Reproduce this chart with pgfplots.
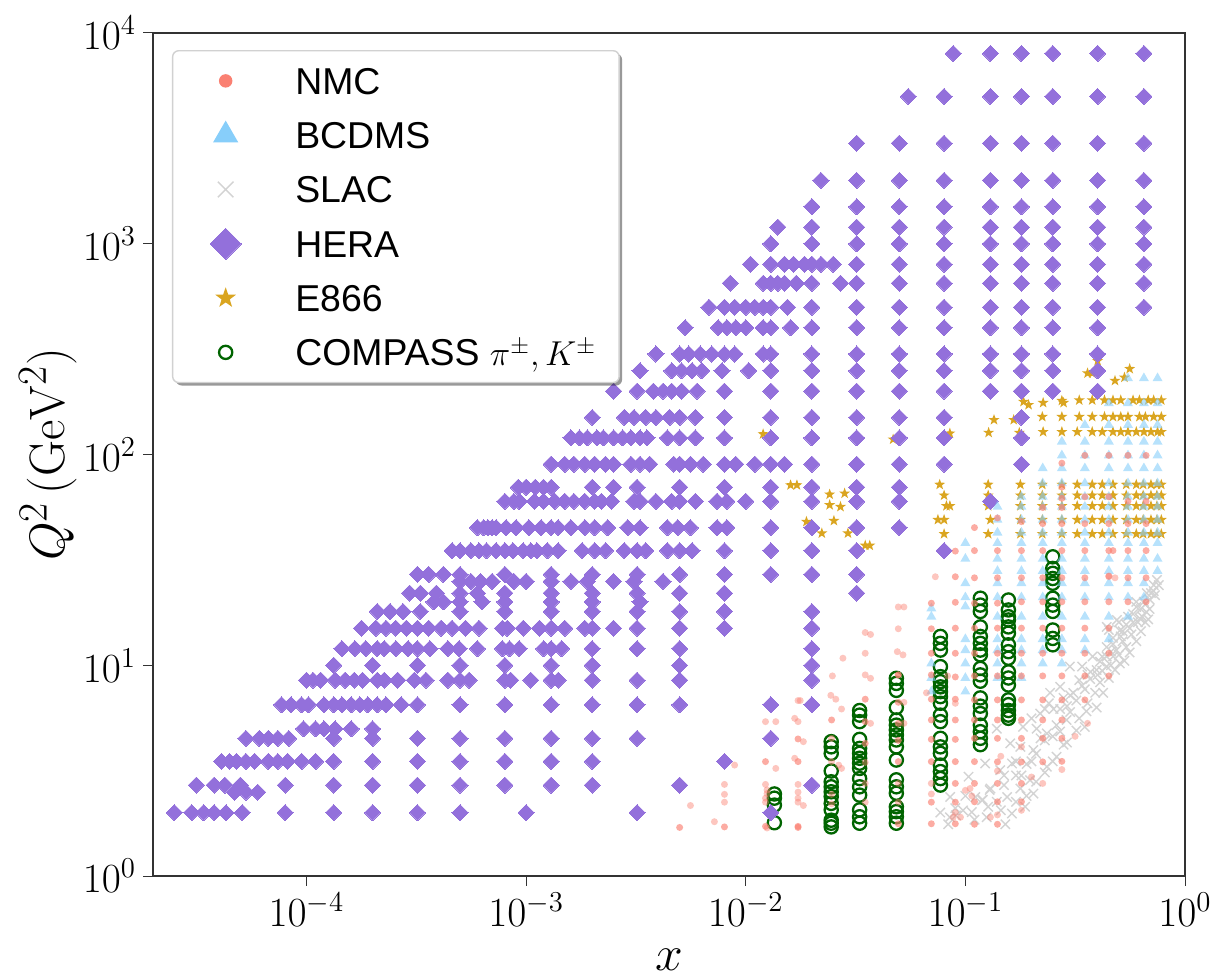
\documentclass[border=0pt]{standalone}
\usepackage{fontspec}
\usepackage{pgfplots}
\pgfplotsset{compat=1.18}
\usetikzlibrary{shadows}
\newfontfamily\lib{Liberation Sans}
\definecolor{nmc}{HTML}{FA8072}
\definecolor{bcd}{HTML}{87CEFA}
\definecolor{slac}{HTML}{D3D3D3}
\definecolor{hera}{HTML}{9370DB}
\definecolor{e866}{HTML}{DAA520}
\definecolor{comp}{HTML}{006400}
\pgfdeclareplotmark{fstar}{%
  \pgfpathmoveto{\pgfpointpolar{90}{\pgfplotmarksize}}%
  \pgfpathlineto{\pgfpointpolar{126}{.40\pgfplotmarksize}}%
  \pgfpathlineto{\pgfpointpolar{162}{\pgfplotmarksize}}%
  \pgfpathlineto{\pgfpointpolar{198}{.40\pgfplotmarksize}}%
  \pgfpathlineto{\pgfpointpolar{234}{\pgfplotmarksize}}%
  \pgfpathlineto{\pgfpointpolar{270}{.40\pgfplotmarksize}}%
  \pgfpathlineto{\pgfpointpolar{306}{\pgfplotmarksize}}%
  \pgfpathlineto{\pgfpointpolar{342}{.40\pgfplotmarksize}}%
  \pgfpathlineto{\pgfpointpolar{18}{\pgfplotmarksize}}%
  \pgfpathlineto{\pgfpointpolar{54}{.40\pgfplotmarksize}}%
  \pgfpathclose\pgfusepathqfill}
\pgfplotsset{leg/.style={legend image code/.code={%
  \pgfpathrectangle{\pgfqpoint{-25pt}{-13.575pt}}{\pgfqpoint{59.8pt}{27.15pt}}\pgfusepath{use as bounding box}%
  \draw[##1,mark size=#1,every mark/.append style={opacity=1,fill opacity=1,draw opacity=1}] plot coordinates {(0pt,0pt)};}}}
\begin{document}
\begin{tikzpicture}
\useasboundingbox (-76.5pt,-51pt) rectangle (530pt,438pt);
\begin{axis}[
  scale only axis, width=516pt, height=421.5pt,
  xmode=log, ymode=log, xmin=2e-5, xmax=1, ymin=1, ymax=1e4,
  xtick={1e-4,1e-3,1e-2,1e-1,1}, ytick={1,10,100,1000,10000},
  log basis x=10, log basis y=10,
  tick align=outside, xtick pos=bottom, ytick pos=left,
  major tick length=5pt, minor tick length=2.5pt,
  tick style={black!80,line width=.5pt}, axis line style={black!80,line width=.6pt},
  tick label style={font=\fontsize{20.74}{25}\selectfont},
  xlabel={$x$}, ylabel={$Q^2\,(\mathrm{GeV}^2)$},
  label style={font=\fontsize{24.88}{28}\selectfont},
  xlabel style={yshift=-4.5pt}, ylabel style={yshift=-4pt},
  only marks,
  reverse legend,
  legend style={at={(0.0184,0.9798)},anchor=north west,
    draw=black!18,line width=.7pt,rounded corners=3pt,fill=white,
    drop shadow={shadow xshift=1.5pt,shadow yshift=-1.5pt,fill=black,opacity=.4},
    inner sep=1.5pt,row sep=0pt,column sep=0pt,
    nodes={inner sep=0pt,text height=16pt,text depth=2.5pt},
    cells={anchor=west},font=\lib\fontsize{18.7}{22}\selectfont},
]
% COMPASS
\addplot[only marks,mark=o,mark size=3.3pt,leg=3.3pt,
  mark options={draw=comp,line width=1.15pt}] coordinates {
(.0135,2.45)(.0135,2.34)(.0135,2.17)(.0135,1.79)
(.0245,4.34)(.0245,4.1)(.0245,3.82)(.0245,3.15)(.0245,2.8)(.0245,2.65)(.0245,2.51)(.0245,2.38)(.0245,2.21)(.0245,2.06)(.0245,1.84)(.0245,1.78)(.0245,1.71)
(.033,6.1)(.033,5.8)(.033,5.4)(.033,4.45)(.033,4.03)(.033,3.82)(.033,3.62)(.033,3.43)(.033,3.24)(.033,2.9)(.033,2.65)(.033,2.42)(.033,2.06)(.033,1.91)(.033,1.78)
(.0485,8.67)(.0485,8.2)(.0485,7.6)(.0485,6.3)(.0485,5.5)(.0485,5.2)(.0485,4.93)(.0485,4.67)(.0485,4.42)(.0485,4.1)(.0485,3.55)(.0485,2.86)(.0485,2.65)(.0485,2.47)(.0485,2.13)(.0485,2.02)(.0485,1.91)(.0485,1.78)
(.077,13.7)(.077,12.7)(.077,11.8)(.077,9.85)(.077,8.83)(.077,8.36)(.077,7.9)(.077,7.5)(.077,7.1)(.077,6.6)(.077,5.8)(.077,5.4)(.077,4.5)(.077,4.1)(.077,3.82)(.077,3.36)(.077,3.13)(.077,2.9)(.077,2.7)
(.117,20.8)(.117,19.3)(.117,18)(.117,15.2)(.117,13.7)(.117,12.7)(.117,11.8)(.117,11.2)(.117,9.66)(.117,9)(.117,8.4)(.117,7)(.117,6.4)(.117,5.9)(.117,5.2)(.117,4.84)(.117,4.5)(.117,4.2)
(.157,20.4)(.157,18.3)(.157,17)(.157,16.4)(.157,15.2)(.157,14.2)(.157,12.5)(.157,11.6)(.157,10.8)(.157,9.3)(.157,8.7)(.157,8.06)(.157,6.85)(.157,6.5)(.157,6.1)(.157,5.8)(.157,5.6)
(.25,32.7)(.25,28.8)(.25,27.3)(.25,25.8)(.25,24.5)(.25,20.8)(.25,19.3)(.25,18)(.25,14.7)(.25,13.4)(.25,12.5)
};
\addlegendentry{COMPASS $\pi^{\pm},K^{\pm}$\hspace*{10pt}\mbox{}}
% E866
\addplot[only marks,mark=fstar,mark size=2.9pt,leg=5.4pt,
  mark options={fill=e866,draw=e866}] coordinates {
(.012,125)(.0469,118)(.085,126)(.016,71.6)(.0171,71.6)(.0241,64.7)(.0282,65.4)(.0241,57.6)(.027,56.5)(.0252,48.5)(.0189,48)(.0222,42.3)(.0292,42.3)(.0367,37)(.035,37)
(.135,146)(.1276,127)(.166,146)(.184,178)(.194,172)(.176,127)(.226,176)(.275,180)(.28,176)(.224,151)(.275,151)(.226,128)(.275,128)
(.4,278)(.378,243)(.36,243)(.56,255)(.53,232)(.48,224)
(.33,181)(.378,181)(.43,181)(.47,181)(.51,181)(.58,181)(.62,181)(.68,181)(.72,181)(.78,181)
(.33,151)(.378,151)(.43,151)(.47,151)(.51,151)(.55,151)(.62,151)(.66,151)(.72,151)(.78,151)
(.323,128)(.378,128)(.42,128)(.47,128)(.51,128)(.55,128)(.6,128)(.65,128)(.7,128)(.75,128)(.78,128)
(.0764,72)(.08,64)(.082,57)(.085,57)(.075,49)(.08,49)(.08,42)
(.127,72)(.127,64)(.127,57)(.13,49)(.127,42)
(.178,72)(.178,64)(.178,57)(.178,49)(.178,42)
(.224,72)(.224,64)(.224,57)(.224,49)(.224,42)
(.275,72)(.275,64)(.275,57)(.275,49)(.275,42)
(.323,72)(.323,64)(.323,57)(.323,49)(.323,42)
(.378,72)(.378,64)(.378,57)(.378,49)(.378,42)
(.42,72)(.42,64)(.42,57)(.42,49)(.42,42)
(.47,72)(.47,64)(.47,57)(.47,49)(.47,42)
(.54,72)(.54,64)(.54,57)(.54,49)(.54,42)
(.6,72)(.6,64)(.6,57)(.6,49)(.6,42)
(.645,72)(.645,64)(.645,57)(.645,49)(.645,42)
(.7,72)(.7,64)(.7,57)(.7,49)(.7,42)
(.745,72)(.745,64)(.745,57)(.745,49)(.745,42)
(.78,72)(.78,64)(.78,57)(.78,49)(.78,42)
};
\addlegendentry{E866}
% HERA
\addplot[only marks,mark=square*,mark size=2.85pt,leg=5.5pt,
  mark options={rotate=45,fill=hera,draw=hera,line width=0pt}] coordinates {
(.088,8000)(.13,8000)(.18,8000)(.25,8000)(.4,8000)(.65,8000)
(.055,5000)(.08,5000)(.13,5000)(.18,5000)(.25,5000)(.4,5000)(.65,5000)
(.032,3000)(.05,3000)(.08,3000)(.13,3000)(.18,3000)(.25,3000)(.4,3000)(.65,3000)
(.022,2000)(.032,2000)(.05,2000)(.08,2000)(.13,2000)(.18,2000)(.25,2000)(.4,2000)(.65,2000)
(.02,1500)(.032,1500)(.05,1500)(.08,1500)(.13,1500)(.18,1500)(.25,1500)(.4,1500)(.65,1500)
(.014,1200)(.02,1200)(.032,1200)(.05,1200)(.08,1200)(.13,1200)(.18,1200)(.25,1200)(.4,1200)(.65,1200)
(.013,1000)(.02,1000)(.032,1000)(.05,1000)(.08,1000)(.13,1000)(.18,1000)(.25,1000)(.4,1000)(.65,1000)
(.0105,800)(.013,800)(.015,800)(.0165,800)(.0185,800)(.02,800)(.022,800)(.025,800)(.032,800)(.05,800)(.08,800)(.13,800)(.18,800)(.25,800)(.4,800)(.65,800)
(.0085,650)(.012,650)(.013,650)(.014,650)(.015,650)(.017,650)(.02,650)(.027,650)(.032,650)(.05,650)(.08,650)(.13,650)(.18,650)(.25,650)(.4,650)(.65,650)
(.0068,500)(.008,500)(.0089,500)(.01,500)(.011,500)(.012,500)(.013,500)(.0155,500)(.02,500)(.032,500)(.05,500)(.08,500)(.13,500)(.18,500)(.25,500)(.4,500)(.65,500)
(.0053,400)(.0075,400)(.0082,400)(.009,400)(.01,400)(.012,400)(.013,400)(.016,400)(.02,400)(.032,400)(.05,400)(.08,400)(.13,400)(.18,400)(.25,400)(.4,400)
(.0039,300)(.005,300)(.0055,300)(.0062,300)(.007,300)(.008,300)(.0089,300)(.012,300)(.013,300)(.02,300)(.032,300)(.05,300)(.08,300)(.13,300)(.18,300)(.25,300)(.4,300)
(.0033,250)(.0046,250)(.0051,250)(.0057,250)(.0063,250)(.0078,250)(.0103,250)(.013,250)(.02,250)(.032,250)(.05,250)(.08,250)(.13,250)(.18,250)(.25,250)(.4,250)
(.0025,200)(.0032,200)(.0038,200)(.0042,200)(.0046,200)(.0051,200)(.006,200)(.008,200)(.013,200)(.02,200)(.032,200)(.05,200)(.08,200)(.13,200)(.18,200)(.25,200)(.4,200)
(.002,150)(.0028,150)(.0031,150)(.0035,150)(.0039,150)(.0045,150)(.005,150)(.0059,150)(.008,150)(.013,150)(.02,150)(.032,150)(.05,150)(.08,150)(.18,150)
(.0016,120)(.00175,120)(.0019,120)(.0021,120)(.00225,120)(.0025,120)(.00275,120)(.003,120)(.0033,120)(.00355,120)(.0044,120)(.005,120)(.0059,120)(.008,120)(.013,120)(.02,120)(.032,120)(.05,120)(.08,120)(.18,120)
(.0013,90)(.0015,90)(.00165,90)(.00185,90)(.00205,90)(.0023,90)(.0025,90)(.003,90)(.0033,90)(.00365,90)(.0047,90)(.005,90)(.0056,90)(.0064,90)(.008,90)(.009,90)(.011,90)(.013,90)(.015,90)(.02,90)(.032,90)(.05,90)(.08,90)(.18,90)
(.00092,70)(.001,70)(.0011,70)(.0012,70)(.0013,70)(.002,70)(.0025,70)(.0032,70)(.005,70)(.008,70)(.013,70)(.02,70)(.032,70)(.05,70)
(.0008,60)(.00088,60)(.00093,60)(.00109,60)(.0012,60)(.00135,60)(.0015,60)(.00165,60)(.00185,60)(.00205,60)(.0022,60)(.00245,60)(.0031,60)(.0033,60)(.0039,60)(.0046,60)(.005,60)(.0059,60)(.0074,60)(.0082,60)(.01,60)(.013,60)(.02,60)(.032,60)(.05,60)(.13,60)
(.0006,45)(.00064,45)(.00067,45)(.0007,45)(.00073,45)(.00081,45)(.0009,45)(.00103,45)(.00117,45)(.0013,45)(.0014,45)(.0016,45)(.00185,45)(.00205,45)(.00235,45)(.0029,45)(.0033,45)(.0044,45)(.0049,45)(.0056,45)(.0074,45)(.0082,45)(.013,45)(.02,45)(.032,45)(.05,45)
(.00046,35)(.0005,35)(.00056,35)(.00061,35)(.00066,35)(.00073,35)(.0008,35)(.00087,35)(.00097,35)(.00105,35)(.00112,35)(.00125,35)(.0014,35)(.0018,35)(.00205,35)(.0023,35)(.0028,35)(.0032,35)(.0035,35)(.0044,35)(.005,35)(.0057,35)(.008,35)(.013,35)(.02,35)(.032,35)(.08,35)
(.00032,27)(.00036,27)(.00042,27)(.0005,27)(.0008,27)(.0013,27)(.002,27)(.0032,27)(.005,27)(.008,27)(.013,27)(.02,27)(.032,27)
(.0005,25)(.00056,25)(.00062,25)(.0007,25)(.00088,25)(.001,25)(.0013,25)(.0016,25)(.0019,25)(.0025,25)(.0031,25)(.0042,25)
(.000295,22)(.00033,22)(.00039,22)(.0005,22)(.0006,22)(.0008,22)(.0013,22)(.002,22)(.0032,22)(.005,22)(.008,22)(.032,22)
(.00038,20)(.00042,20)(.0005,20)(.00063,20)(.0008,20)(.0013,20)(.002,20)(.0033,20)
(.00021,18)(.00024,18)(.000275,18)(.00033,18)(.0005,18)(.0008,18)(.0013,18)(.002,18)(.0032,18)(.005,18)(.008,18)(.02,18)
(.000178,15)(.000207,15)(.00023,15)(.000255,15)(.000285,15)(.00032,15)(.00036,15)(.00041,15)(.00046,15)(.00053,15)(.00061,15)(.00078,15)(.00082,15)(.00097,15)(.00115,15)(.0013,15)(.0015,15)(.00185,15)(.002,15)(.0025,15)(.0032,15)(.005,15)(.008,15)(.02,15)
(.000145,12)(.000166,12)(.000186,12)(.00021,12)(.000226,12)(.000255,12)(.00029,12)(.00032,12)(.000365,12)(.00044,12)(.000495,12)(.0006,12)(.00078,12)(.00084,12)(.00093,12)(.0012,12)(.0013,12)(.00145,12)(.002,12)(.0032,12)(.005,12)(.02,12)
(.000133,10)(.0002,10)(.00032,10)(.0005,10)(.0008,10)(.0013,10)(.002,10)(.005,10)(.02,10)
(1e-4,8.5)(1.07e-4,8.5)(1.16e-4,8.5)(1.35e-4,8.5)(1.5e-4,8.5)(1.65e-4,8.5)(1.8e-4,8.5)(2.1e-4,8.5)(2.26e-4,8.5)(2.6e-4,8.5)(3.1e-4,8.5)(3.5e-4,8.5)(4.4e-4,8.5)(5e-4,8.5)(5.5e-4,8.5)(8e-4,8.5)(8.5e-4,8.5)(1.05e-3,8.5)(1.3e-3,8.5)(1.4e-3,8.5)(2e-3,8.5)(3.2e-3,8.5)(5e-3,8.5)(2e-2,8.5)
(7.7e-5,6.5)(8.5e-5,6.5)(9.5e-5,6.5)(1.02e-4,6.5)(1.2e-4,6.5)(1.33e-4,6.5)(1.45e-4,6.5)(1.6e-4,6.5)(1.75e-4,6.5)(1.9e-4,6.5)(2.1e-4,6.5)(2.3e-4,6.5)(2.7e-4,6.5)(3.2e-4,6.5)(5e-4,6.5)(8e-4,6.5)(1.3e-3,6.5)(2e-3,6.5)(3.2e-3,6.5)(5e-3,6.5)(1.3e-2,6.5)(2e-2,6.5)
(9.7e-5,5)(1.1e-4,5)(1.2e-4,5)(1.35e-4,5)(1.6e-4,5)(2e-4,5)
(5.3e-5,4.5)(6.1e-5,4.5)(6.7e-5,4.5)(7.4e-5,4.5)(8.3e-5,4.5)(1.33e-4,4.5)(2e-4,4.5)(3.2e-4,4.5)(5e-4,4.5)(8e-4,4.5)(1.3e-3,4.5)(2e-3,4.5)(3.2e-3,4.5)(1.3e-2,4.5)
(4.1e-5,3.5)(4.46e-5,3.5)(4.8e-5,3.5)(5.3e-5,3.5)(5.8e-5,3.5)(6.7e-5,3.5)(7.4e-5,3.5)(8.2e-5,3.5)(9.5e-5,3.5)(1.1e-4,3.5)(1.33e-4,3.5)(2e-4,3.5)(3.2e-4,3.5)(5e-4,3.5)(8e-4,3.5)(1.3e-3,3.5)(2e-3,3.5)(8e-3,3.5)
(3.15e-5,2.7)(3.8e-5,2.7)(4.25e-5,2.7)(5e-5,2.7)(8e-5,2.7)(1.33e-4,2.7)(2e-4,2.7)(3.2e-4,2.7)(5e-4,2.7)(8e-4,2.7)(1.3e-3,2.7)(2e-3,2.7)(5e-3,2.7)(2e-2,2.7)
(4.7e-5,2.5)(5.3e-5,2.5)(6e-5,2.5)
(2.5e-5,2)(3e-5,2)(3.4e-5,2)(3.8e-5,2)(4.3e-5,2)(5.1e-5,2)(8e-5,2)(1.33e-4,2)(2e-4,2)(3.2e-4,2)(5e-4,2)(1e-3,2)(3.2e-3,2)(1.3e-2,2)
};
\addlegendentry{HERA}
% SLAC
\addplot[only marks,mark=x,mark size=3.3pt,leg=5.5pt,
  mark options={draw=slac,line width=.7pt}] coordinates {
(.0769,2)(.0835,1.76)(.0906,1.94)(.0853,2.37)(.0975,2.05)(.107,2.01)(.1034,2.96)(.111,2.37)(.119,2.29)(.127,2.13)(.139,2.25)(.152,1.76)(.163,1.98)(.187,2.13)(.129,2.56)(.155,2.37)(.178,2.6)(.204,2.46)(.123,3.42)(.144,3.18)(.163,3.42)(.197,2.85)(.16,4.26)(.178,4.1)(.204,3.96)(.235,3.3)(.26,3.68)(.139,5)(.183,5.1)(.211,5)(.235,4.75)(.27,4.85)(.219,5.9)(.252,6.2)(.289,5.5)(.35,5.1)(.243,7.4)(.27,7.9)(.31,7.4)(.356,6.05)(.396,6.3)(.299,9.86)(.34,9.86)(.371,9.3)(.424,7.4)(.396,9.5)(.44,9.86)(.471,11)(.505,10.2)(.44,12.2)(.488,11.8)(.54,12.2)(.44,15.2)(.505,14.6)(.56,15)(.622,16.7)(.667,17.9)
(.745,25.4)(.67,22)(.6,18.9)(.49,16.4)(.45,14.7)(.55,17)(.6,20)(.65,20)(.7,22)(.72,24)(.5,16)(.47,13.5)(.52,13)(.58,16)(.42,11)(.46,10)(.38,11)(.33,8.5)(.28,7)(.24,6.6)(.3,6)(.22,4.5)(.17,3.5)(.15,3)(.13,2.6)(.18,3)(.2,3.5)(.25,4.6)(.28,4.2)(.12,2.3)(.1,2.4)(.09,2.1)(.085,1.9)
(.11,1.85)(.125,1.9)(.145,2.05)(.17,2.25)(.19,2.4)(.21,2.8)(.23,3.1)(.25,3.5)(.29,4.3)(.32,4.9)(.33,5.6)(.36,6.6)(.39,7.4)(.41,8.3)(.45,8.7)(.48,9.5)(.53,10.5)(.56,11.5)(.6,13)(.63,14.5)(.66,16)(.69,18.5)(.73,21.5)(.76,24)
(.15,2.7)(.17,3)(.19,3.4)(.21,3.8)(.23,4.4)(.26,5.2)(.29,6.4)(.32,6.8)(.35,7.7)(.37,8.6)(.41,10.4)(.44,11)(.47,12.6)(.51,13.7)(.54,15.6)(.58,17.5)(.63,18.5)(.66,19.5)(.69,20.5)(.72,22.5)
(.2,5.6)(.23,6.2)(.27,6.2)(.3,7.2)(.34,8)(.36,9)(.4,9)(.42,9.4)(.46,11.6)(.5,11.2)(.52,14.5)(.57,14)(.61,16)(.64,17)(.68,16.5)
};
\addlegendentry{SLAC}
% BCDMS
\addplot[only marks,mark=triangle*,mark size=2.9pt,leg=6.6pt,
  mark options={fill=bcd,draw=bcd,fill opacity=.6,draw opacity=0}] coordinates {
(.07,18.6)(.07,17)(.07,10.2)(.07,8.7)(.07,7.5)
(.1,38)(.1,32)(.1,24.5)(.1,21)(.1,19)(.1,13.3)(.1,11.8)(.1,10.2)(.1,8.7)(.1,7.5)
(.14,56.5)(.14,49)(.14,42.6)(.14,38)(.14,32)(.14,28)(.14,24.5)(.14,21)(.14,17)(.14,13.3)(.14,11.8)(.14,10.2)(.14,8.7)
(.18,63)(.18,56.5)(.18,49)(.18,42.6)(.18,38)(.18,32)(.18,28)(.18,24.5)(.18,21)(.18,17)(.18,13.3)(.18,11.8)(.18,10.2)(.18,8.7)
(.225,86)(.225,73)(.225,63)(.225,56.5)(.225,49)(.225,42.6)(.225,38)(.225,32)(.225,28)(.225,24.5)(.225,21)(.225,17)(.225,13.3)(.225,11.8)(.225,10.2)
(.275,115)(.275,99)(.275,86)(.275,73)(.275,63)(.275,56.5)(.275,49)(.275,42.6)(.275,38)(.275,32)(.275,28)(.275,24.5)(.275,21)(.275,17)(.275,13.3)(.275,11.8)(.275,10.2)
(.35,138)(.35,115)(.35,99)(.35,86)(.35,73)(.35,63)(.35,56.5)(.35,49)(.35,42.6)(.35,38)(.35,32)(.35,28)(.35,24.5)(.35,21)(.35,17)(.35,13.3)(.35,11.8)
(.45,175)(.45,138)(.45,115)(.45,99)(.45,86)(.45,73)(.45,63)(.45,56.5)(.45,49)(.45,42.6)(.45,38)(.45,32)(.45,28)(.45,24.5)(.45,21)(.45,17)(.45,13.3)
(.55,230)(.55,175)(.55,138)(.55,115)(.55,99)(.55,86)(.55,73)(.55,63)(.55,56.5)(.55,49)(.55,42.6)(.55,38)(.55,32)(.55,28)(.55,24.5)(.55,21)(.55,17)
(.65,230)(.65,175)(.65,138)(.65,115)(.65,99)(.65,86)(.65,73)(.65,63)(.65,56.5)(.65,49)(.65,42.6)(.65,38)(.65,32)(.65,28)(.65,24.5)(.65,21)
(.75,230)(.75,175)(.75,138)(.75,115)(.75,99)(.75,86)(.75,73)(.75,63)(.75,56.5)(.75,49)(.75,42.6)(.75,38)(.75,32)(.75,28)
};
\addlegendentry{BCDMS}
% NMC faint
\addplot[forget plot,only marks,mark=*,mark size=1.75pt,
  mark options={fill=nmc,draw=nmc,fill opacity=.45,draw opacity=0}] coordinates {
(.0056,2.16)(.0072,1.81)(.008,2.24)(.008,2.44)(.008,2.72)(.0089,3.36)(.0123,2.24)(.0123,2.34)(.0123,2.72)(.0125,2.56)(.0125,2.46)(.0125,1.69)(.0137,3.24)(.0137,5.4)(.0123,5.4)(.0173,2.72)(.0173,2.5)(.0173,2.34)(.0173,2.24)(.0167,3.62)(.0167,5.6)(.0183,2.16)(.0183,4.34)(.0173,5.4)(.0173,6.8)(.0177,6.8)
(.0244,7.2)(.0257,6.9)(.0248,8.9)(.0277,10.8)(.0273,6.2)(.0265,3.36)(.0273,3.24)(.0246,4.5)(.0246,3.49)(.0246,2.44)(.0246,2.2)
(.035,14.3)(.037,14)(.035,11.4)(.035,9)(.037,8.67)(.037,5.3)(.035,3.46)(.035,2.75)(.035,2.24)
(.0495,18.9)(.0525,18.9)(.0495,14.9)(.052,11.2)(.049,11.6)(.0495,9)(.0525,6.67)(.0525,5.3)(.0495,2.75)(.0495,2.24)
(.0665,7.4)(.073,26.3)(.07,2.75)(.07,2.45)(.083,8.9)(.09,6.6)(.088,1.9)(.09,2.0)(.095,1.9)(.1,2.55)(.105,2.6)(.107,2.4)(.13,1.9)(.14,1.95)(.18,2.05)(.14,3.15)(.145,3.7)(.18,4.1)(.225,2.75)(.2,2.95)(.316,4.6)(.36,5.3)(.275,3.2)(.48,26)(.45,26.3)
};
% NMC
\addplot[only marks,mark=*,mark size=1.75pt,leg=3pt,
  mark options={fill=nmc,draw=nmc,fill opacity=.65,draw opacity=0}] coordinates {
(.005,1.7)(.008,1.71)(.0123,1.72)(.0173,1.72)(.0173,1.7)(.0123,3.49)(.0173,3.49)(.0173,4.47)(.0246,5.5)
(.035,6.9)(.035,5.4)(.035,4.26)(.0495,9)(.0495,5.3)(.0495,6.67)(.0495,4.4)(.0495,3.49)(.0495,1.77)
(.07,1.77)(.07,2.24)(.07,3.49)(.07,4.45)(.07,5.5)(.07,6.9)(.07,9)(.07,11.4)(.07,14.9)(.07,19.7)
(.09,1.77)(.09,2.24)(.09,2.75)(.09,3.49)(.09,4.45)(.09,5.5)(.09,6.9)(.09,8.8)(.09,11.4)(.09,15)(.09,19.9)(.09,26.3)(.09,34.8)
(.11,1.76)(.11,2.25)(.11,2.75)(.11,3.49)(.11,4.5)(.11,5.5)(.11,6.85)(.11,8.9)(.11,11.4)(.11,15)(.11,19.7)(.11,26)(.11,35)(.11,45)
(.14,1.76)(.14,2.25)(.14,2.75)(.14,3.48)(.14,4.5)(.14,5.5)(.14,6.85)(.14,8.9)(.14,11.4)(.14,15)(.14,19.7)(.14,26)(.14,35)(.14,50)
(.18,2.25)(.18,2.75)(.18,3.48)(.18,4.5)(.18,5.5)(.18,6.85)(.18,8.9)(.18,11.4)(.18,15)(.18,20)(.18,26)(.18,35)(.18,48)
(.225,3.48)(.225,4.5)(.225,5.5)(.225,6.85)(.225,8.9)(.225,11.4)(.225,15)(.225,20)(.225,26)(.225,35)(.225,47)(.225,56)
(.275,3.5)(.275,4.5)(.275,5.5)(.275,6.85)(.275,8.9)(.275,11.4)(.275,15)(.275,20)(.275,26)(.275,35)(.275,47)(.275,56)(.275,62)(.275,70)(.275,91)
(.35,6.85)(.35,8.9)(.35,11.4)(.35,15)(.35,20)(.35,26)(.35,35)(.35,47)(.35,63)(.35,99)
(.45,8.9)(.45,11.4)(.45,15)(.45,20)(.45,26.5)(.45,35)(.47,35)(.45,47)(.45,63)(.45,99)
(.55,20)(.55,26)(.55,35)(.55,47)(.55,60)(.55,99)
(.665,20)(.665,26)(.665,35)(.665,47)(.665,60)(.665,99)
};
\addlegendentry{NMC}
\end{axis}
\end{tikzpicture}
\end{document}
